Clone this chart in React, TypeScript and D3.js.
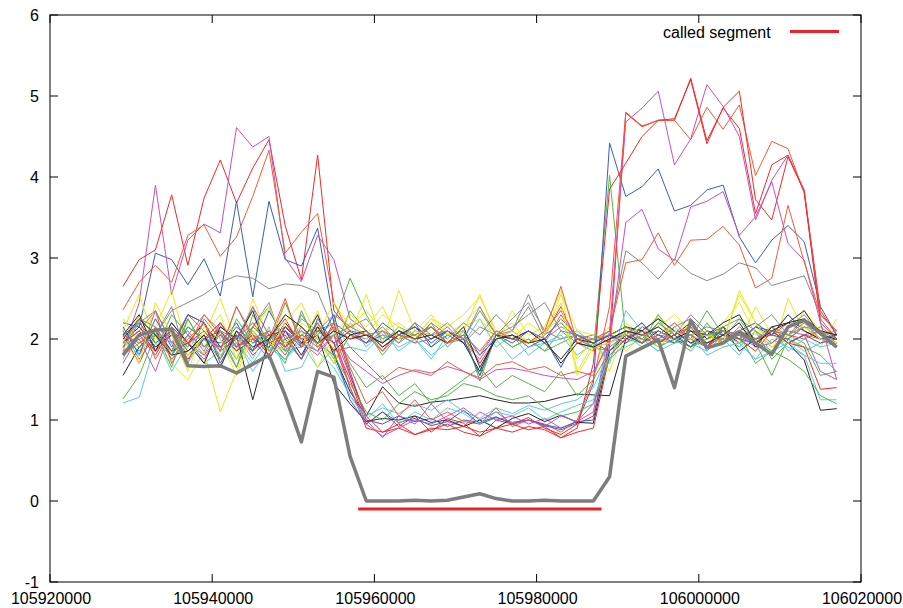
import * as d3 from "d3";

// probe positions (bp)
const positions = [
  105929000, 105931000, 105933000, 105935000, 105937000, 105939000, 105941000, 105943000, 105945000,
  105947000, 105949000, 105951000, 105953000, 105955000, 105957000, 105959000, 105961000, 105963000,
  105965000, 105967000, 105969000, 105971000, 105973000, 105975000, 105977000, 105979000, 105981000,
  105983000, 105985000, 105987000, 105989000, 105991000, 105993000, 105995000, 105997000, 105999000,
  106001000, 106003000, 106005000, 106007000, 106009000, 106011000, 106013000, 106015000, 106017000,
];

const xTicks = [105920000, 105940000, 105960000, 105980000, 106000000, 106020000];
const yTicks = [-1, 0, 1, 2, 3, 4, 5, 6];

// gnuplot-like line colours, cycled per sample
const palette = ["#f02a2a", "#52b846", "#3a5cc2", "#c852b8", "#5ccae0", "#ece81c", "#262626", "#f25a36", "#8a8a8a"];

// copy-number per sample (one row per sample)
const samples: number[][] = [
  [2.65, 2.98, 3.10, 3.78, 2.91, 3.74, 4.21, 3.68, 4.11, 4.46, 3.40, 2.73, 4.27, 2.35, 2.10,
   2.05, 1.85, 2.10, 2.00, 2.15, 1.95, 2.05, 1.70, 2.00, 2.10, 1.95, 2.05, 2.40, 1.95, 1.90,
   2.00, 2.10, 1.95, 2.05, 2.00, 2.15, 2.05, 1.95, 2.10, 2.00, 2.05, 2.20, 2.10, 2.00, 1.95],
  [1.95, 2.10, 1.85, 2.30, 2.05, 1.80, 2.20, 1.95, 2.15, 2.40, 1.90, 2.25, 2.10, 2.20, 2.75,
   2.30, 1.95, 2.15, 2.05, 1.90, 2.10, 2.00, 1.55, 2.05, 1.90, 2.00, 1.85, 2.10, 1.95, 1.85,
   4.02, 2.00, 2.10, 2.25, 1.95, 2.00, 2.35, 2.05, 1.90, 2.10, 1.75, 1.95, 2.05, 2.15, 2.00],
  [2.20, 2.15, 3.06, 2.98, 2.67, 2.99, 2.53, 3.70, 2.52, 3.70, 2.98, 2.90, 3.37, 2.20, 2.05,
   1.95, 2.05, 2.00, 2.20, 1.90, 2.05, 2.10, 1.80, 2.00, 2.05, 1.90, 2.00, 2.25, 2.05, 1.95,
   1.85, 2.05, 1.95, 2.10, 2.00, 1.90, 2.05, 2.15, 2.00, 1.95, 2.10, 2.05, 2.25, 2.05, 2.00],
  [1.85, 2.45, 3.90, 2.55, 3.22, 3.42, 3.31, 4.61, 4.37, 4.50, 3.00, 2.71, 3.28, 2.98, 2.25,
   2.10, 1.90, 2.05, 1.95, 2.00, 2.15, 1.95, 1.75, 2.05, 2.00, 2.10, 1.95, 2.30, 2.00, 1.90,
   2.05, 2.00, 2.15, 1.95, 2.10, 2.00, 1.90, 2.05, 2.10, 2.00, 2.15, 1.95, 2.05, 2.10, 1.95],
  [1.21, 1.28, 1.95, 1.80, 2.05, 1.70, 1.85, 2.00, 1.60, 1.90, 1.75, 1.95, 1.65, 1.90, 2.20,
   1.90, 2.10, 1.85, 2.00, 1.75, 2.05, 1.95, 2.25, 1.90, 2.05, 1.80, 1.95, 2.00, 2.10, 1.95,
   1.75, 2.10, 2.00, 1.85, 2.15, 1.95, 2.05, 2.00, 1.80, 2.10, 1.90, 2.00, 1.85, 1.95, 2.05],
  [2.10, 2.55, 1.95, 1.70, 1.50, 1.85, 1.10, 1.60, 2.10, 1.80, 2.45, 1.90, 2.35, 1.75, 2.05,
   2.55, 1.95, 2.60, 2.10, 2.30, 2.05, 2.20, 2.40, 1.95, 2.35, 2.05, 2.15, 2.60, 1.60, 1.95,
   2.15, 1.85, 2.05, 2.30, 1.95, 2.15, 2.05, 2.00, 2.55, 2.20, 1.80, 2.50, 2.10, 1.90, 2.25],
  [1.95, 2.15, 1.90, 2.05, 1.80, 2.00, 2.10, 1.85, 2.00, 1.90, 2.20, 1.95, 2.30, 1.80, 1.35,
   1.05, 1.41, 1.21, 1.17, 1.22, 1.24, 1.27, 1.30, 1.25, 1.21, 1.21, 1.23, 1.28, 1.32, 1.31,
   1.30, 2.00, 2.10, 1.95, 2.05, 2.20, 2.00, 2.10, 1.95, 2.15, 2.05, 2.30, 2.10, 2.00, 1.95],
  [2.36, 2.70, 2.91, 2.70, 3.28, 3.41, 3.02, 3.26, 3.76, 4.33, 3.06, 3.32, 3.55, 2.45, 2.05,
   1.95, 2.10, 2.00, 2.05, 2.15, 1.95, 2.00, 1.80, 2.10, 2.00, 1.95, 2.10, 2.35, 2.00, 2.05,
   1.95, 2.05, 2.20, 2.00, 1.95, 2.10, 2.05, 1.95, 2.15, 2.00, 2.10, 1.95, 2.05, 2.00, 1.90],
  [1.80, 1.95, 2.05, 2.35, 2.45, 2.55, 2.70, 2.78, 2.75, 2.62, 2.68, 2.66, 2.58, 2.10, 2.00,
   2.05, 1.95, 2.10, 2.00, 2.20, 2.05, 1.95, 2.15, 2.05, 2.25, 2.45, 2.10, 2.00, 2.05, 1.95,
   2.10, 3.09, 2.94, 2.74, 2.99, 2.81, 2.72, 2.80, 2.94, 2.88, 2.66, 2.72, 2.78, 2.30, 2.10],
  [2.05, 1.70, 2.15, 1.85, 2.30, 2.20, 1.75, 2.10, 1.80, 2.00, 2.25, 1.90, 2.15, 1.95, 1.50,
   0.95, 1.10, 0.92, 1.05, 0.85, 1.02, 0.96, 0.80, 1.00, 0.95, 1.03, 0.90, 0.82, 0.95, 1.05,
   1.90, 4.79, 4.62, 4.70, 4.70, 5.22, 4.45, 4.85, 4.60, 3.55, 4.15, 4.27, 3.82, 2.35, 2.05],
  [2.00, 1.85, 2.10, 1.65, 2.25, 1.90, 2.05, 1.75, 2.15, 1.95, 1.70, 2.35, 1.90, 2.10, 1.70,
   1.40, 1.55, 1.30, 1.45, 1.20, 1.35, 1.50, 1.65, 1.40, 1.55, 1.45, 1.35, 1.60, 1.30, 1.50,
   1.85, 2.00, 1.95, 2.30, 2.05, 1.90, 2.20, 1.95, 2.10, 2.00, 1.85, 2.05, 1.95, 1.55, 1.60],
  [1.90, 2.25, 2.05, 1.80, 2.15, 2.00, 1.95, 2.20, 1.85, 2.05, 1.90, 2.10, 1.95, 2.30, 1.60,
   1.00, 0.95, 1.05, 0.98, 1.02, 0.92, 1.00, 0.97, 1.04, 0.95, 1.00, 0.93, 0.88, 0.96, 1.45,
   4.42, 3.76, 3.88, 4.10, 3.58, 3.65, 3.84, 3.90, 3.26, 2.94, 3.22, 3.40, 3.20, 2.40, 2.05],
  [1.70, 2.05, 1.85, 2.20, 1.95, 1.75, 2.10, 1.90, 2.05, 1.85, 2.15, 1.95, 1.80, 2.05, 1.55,
   1.00, 0.78, 1.05, 0.95, 1.20, 0.98, 0.92, 1.10, 1.00, 1.05, 0.95, 1.02, 0.90, 0.98, 1.10,
   2.10, 4.68, 4.85, 5.06, 4.15, 4.47, 5.14, 4.87, 4.50, 3.47, 3.96, 4.27, 3.84, 2.25, 2.00],
  [1.85, 2.00, 2.10, 1.75, 1.95, 2.05, 1.80, 1.95, 1.70, 2.00, 1.85, 1.90, 2.05, 1.75, 1.30,
   1.05, 1.15, 1.08, 1.20, 1.12, 1.25, 1.10, 1.02, 1.15, 1.08, 1.18, 1.12, 1.20, 1.25, 1.40,
   1.85, 2.05, 1.90, 2.00, 2.10, 1.95, 1.85, 2.05, 1.95, 1.75, 2.00, 1.90, 1.80, 1.25, 1.25],
  [2.25, 1.95, 2.15, 2.60, 1.85, 2.05, 2.30, 1.75, 2.50, 2.00, 1.80, 2.20, 2.05, 2.45, 2.15,
   2.35, 2.10, 2.20, 2.05, 2.25, 2.15, 2.30, 2.52, 2.10, 2.00, 2.20, 2.05, 2.55, 2.10, 2.05,
   2.00, 2.20, 2.05, 2.15, 2.30, 2.10, 1.95, 2.20, 2.45, 2.05, 2.15, 2.00, 2.35, 2.10, 2.00],
  [1.55, 1.90, 2.10, 1.85, 1.95, 2.20, 1.90, 2.05, 1.25, 2.00, 2.15, 1.95, 2.05, 1.45, 1.20,
   0.98, 1.02, 1.00, 1.05, 0.97, 1.00, 0.92, 1.00, 0.90, 1.02, 1.08, 0.98, 1.06, 0.97, 0.96,
   1.85, 2.05, 1.95, 2.10, 2.00, 2.05, 1.90, 2.15, 1.85, 2.00, 2.10, 1.95, 1.74, 1.12, 1.14],
  [1.95, 2.10, 2.35, 1.70, 2.05, 1.90, 2.15, 2.00, 1.85, 2.10, 1.95, 2.05, 1.90, 2.15, 1.65,
   1.20, 1.35, 1.05, 1.25, 1.00, 1.10, 0.98, 0.95, 1.15, 0.92, 1.00, 0.95, 0.85, 1.00, 1.50,
   2.40, 4.80, 4.63, 4.70, 4.70, 4.46, 4.86, 4.59, 4.89, 4.02, 4.44, 4.35, 3.80, 2.30, 2.10],
  [2.10, 1.75, 2.05, 2.40, 1.70, 2.25, 2.00, 1.65, 2.15, 2.45, 1.85, 2.30, 2.00, 1.70, 2.05,
   2.00, 2.15, 1.95, 2.10, 2.05, 2.20, 2.00, 2.35, 2.05, 2.10, 2.40, 2.00, 2.15, 2.05, 1.95,
   2.05, 2.15, 2.00, 2.20, 2.05, 2.30, 2.10, 2.00, 2.25, 2.10, 1.95, 2.15, 2.30, 2.05, 2.10],
  [1.90, 2.05, 1.80, 2.15, 1.95, 2.10, 1.85, 2.00, 2.20, 1.95, 2.05, 1.75, 2.10, 1.95, 1.40,
   0.90, 0.85, 0.95, 0.82, 0.90, 0.88, 0.92, 0.85, 0.90, 0.95, 0.88, 0.92, 0.78, 0.90, 1.70,
   3.85, 4.17, 4.50, 4.70, 4.72, 5.20, 4.41, 4.86, 5.06, 3.72, 3.47, 4.25, 3.82, 2.20, 2.00],
  [1.26, 1.55, 2.05, 1.80, 2.25, 1.90, 2.10, 1.65, 2.30, 1.95, 1.75, 2.05, 2.15, 1.85, 2.35,
   2.10, 1.80, 2.05, 1.95, 2.20, 1.90, 2.10, 1.48, 2.05, 1.90, 2.00, 1.85, 1.95, 2.05, 1.90,
   1.85, 2.10, 1.95, 2.20, 2.05, 1.90, 2.00, 2.15, 2.25, 1.95, 1.55, 2.00, 1.90, 1.80, 1.60],
  [2.05, 2.20, 1.95, 2.10, 1.85, 2.00, 1.90, 2.15, 1.95, 2.05, 2.10, 1.90, 2.20, 1.85, 1.25,
   0.95, 1.10, 0.97, 1.02, 0.93, 0.98, 1.12, 0.95, 1.03, 0.97, 1.00, 0.94, 0.90, 0.98, 1.00,
   2.00, 2.05, 2.20, 1.95, 2.05, 1.90, 2.10, 2.05, 2.00, 2.15, 2.10, 1.95, 2.05, 1.95, 2.00],
  [2.00, 1.80, 2.35, 1.95, 2.10, 1.85, 2.20, 1.90, 2.40, 2.05, 1.80, 2.15, 1.95, 2.05, 1.75,
   1.60, 1.45, 1.55, 1.62, 1.58, 1.66, 1.60, 1.50, 1.62, 1.64, 1.60, 1.55, 1.52, 1.50, 1.60,
   1.95, 3.44, 3.60, 3.11, 2.97, 3.63, 3.70, 3.82, 3.28, 3.51, 3.94, 3.18, 2.97, 2.20, 1.50],
  [1.75, 2.25, 2.05, 1.60, 1.95, 1.70, 1.65, 2.05, 1.75, 2.15, 1.60, 1.65, 2.05, 2.20, 1.90,
   1.85, 2.05, 1.90, 2.00, 1.80, 1.95, 2.05, 1.85, 2.00, 1.75, 1.90, 1.95, 2.05, 1.80, 1.95,
   1.70, 2.35, 2.10, 2.00, 1.95, 2.20, 1.85, 2.05, 1.95, 2.00, 2.15, 1.85, 2.00, 1.90, 1.95],
  [1.85, 2.30, 2.00, 2.15, 1.80, 2.05, 2.50, 1.95, 2.10, 1.85, 2.20, 2.45, 2.00, 1.70, 2.20,
   2.05, 2.30, 2.15, 2.00, 2.25, 2.05, 2.10, 2.55, 2.05, 2.20, 1.95, 2.10, 2.25, 1.75, 2.00,
   1.60, 2.15, 2.05, 1.95, 2.20, 2.05, 2.10, 1.90, 1.95, 2.40, 2.05, 1.95, 2.20, 2.05, 1.95],
  [2.05, 2.30, 1.85, 2.20, 1.95, 1.70, 2.15, 2.00, 2.35, 1.75, 2.10, 1.80, 2.15, 1.85, 2.05,
   2.10, 1.90, 2.05, 2.15, 2.00, 2.10, 1.95, 1.60, 2.05, 2.00, 2.10, 1.95, 1.75, 2.00, 1.95,
   2.05, 2.15, 2.10, 2.25, 2.10, 1.95, 2.05, 2.20, 2.30, 1.95, 2.10, 2.20, 2.35, 2.05, 2.00],
  [1.95, 2.25, 1.75, 2.10, 1.90, 2.30, 2.05, 1.85, 2.15, 2.00, 2.50, 1.90, 2.20, 1.85, 1.90,
   1.70, 1.50, 1.65, 1.60, 1.55, 1.72, 1.60, 1.52, 1.68, 1.72, 1.62, 1.66, 1.55, 1.60, 1.55,
   2.00, 2.10, 1.95, 2.05, 2.20, 2.00, 1.90, 2.10, 2.05, 1.95, 2.15, 2.05, 2.00, 2.10, 2.05],
  [1.90, 2.20, 2.35, 1.95, 2.30, 2.10, 1.85, 2.40, 2.05, 1.95, 2.45, 2.00, 2.10, 2.30, 2.15,
   2.25, 2.00, 2.10, 2.05, 2.15, 2.00, 2.20, 2.05, 2.30, 2.10, 2.55, 2.05, 2.20, 2.00, 1.90,
   1.95, 2.10, 2.05, 2.00, 2.15, 2.25, 2.05, 2.10, 2.00, 2.15, 2.30, 2.05, 2.20, 2.00, 2.05],
  [1.95, 2.10, 1.85, 2.05, 1.75, 2.00, 2.20, 1.90, 2.05, 1.80, 2.15, 2.00, 1.85, 2.20, 1.55,
   1.05, 0.85, 0.90, 0.82, 0.88, 0.95, 0.85, 0.80, 0.90, 0.85, 0.92, 0.88, 0.78, 0.85, 0.90,
   1.80, 2.00, 2.10, 1.95, 2.05, 2.15, 1.90, 2.05, 2.00, 1.85, 2.10, 1.95, 1.90, 1.38, 1.40],
  [2.10, 1.90, 2.05, 1.85, 2.15, 2.00, 1.75, 2.25, 1.95, 2.10, 1.85, 2.05, 1.95, 1.80, 1.45,
   1.10, 1.00, 1.20, 1.35, 1.25, 1.30, 1.45, 1.40, 1.30, 1.25, 1.30, 1.15, 1.05, 1.10, 1.20,
   1.75, 1.95, 2.05, 1.90, 2.00, 1.85, 2.10, 1.95, 2.05, 1.70, 1.85, 1.75, 1.60, 1.30, 1.20],
  [2.15, 1.80, 2.25, 1.90, 2.30, 2.20, 1.70, 2.05, 1.85, 2.35, 2.00, 1.75, 2.25, 1.95, 2.10,
   1.95, 2.20, 2.05, 2.15, 1.95, 2.10, 2.00, 1.55, 2.05, 1.95, 2.10, 2.00, 1.65, 2.05, 1.95,
   2.05, 1.95, 2.15, 2.05, 1.95, 2.10, 2.05, 1.95, 2.10, 2.20, 2.05, 2.00, 2.15, 2.00, 2.05],
  [1.85, 2.00, 1.60, 2.15, 1.95, 1.80, 2.05, 1.90, 2.00, 1.75, 2.10, 1.95, 1.85, 2.05, 1.40,
   0.95, 0.80, 0.90, 1.00, 0.95, 1.05, 1.15, 1.00, 1.10, 0.95, 1.00, 0.92, 1.05, 0.98, 1.20,
   1.90, 2.05, 2.00, 1.95, 2.10, 2.05, 1.95, 2.00, 2.05, 1.90, 1.95, 2.10, 2.05, 1.60, 1.50],
  [2.00, 1.80, 2.10, 1.95, 1.70, 2.05, 1.85, 1.95, 2.10, 1.90, 1.75, 2.00, 1.85, 1.65, 1.30,
   1.00, 1.20, 0.95, 1.10, 1.00, 1.15, 1.08, 0.95, 1.10, 1.05, 1.15, 1.00, 1.10, 1.18, 1.25,
   1.80, 1.90, 2.00, 1.85, 1.95, 2.05, 1.80, 1.90, 1.95, 1.75, 1.85, 1.95, 1.80, 1.70, 1.70],
  [2.00, 1.70, 2.45, 2.05, 1.60, 2.15, 2.00, 1.55, 2.05, 2.40, 1.95, 2.10, 1.65, 2.05, 2.30,
   2.15, 2.40, 2.00, 2.10, 2.05, 1.95, 2.15, 2.25, 2.00, 2.10, 1.95, 2.05, 2.45, 1.55, 1.90,
   1.95, 2.05, 2.15, 1.90, 2.10, 2.00, 2.05, 1.95, 2.60, 2.20, 1.90, 2.05, 2.15, 2.00, 1.95],
  [2.00, 2.25, 2.05, 1.80, 1.85, 2.05, 1.65, 2.10, 1.90, 2.00, 2.30, 2.15, 1.95, 2.10, 2.00,
   2.05, 1.95, 2.10, 2.00, 2.05, 1.95, 2.15, 1.65, 2.00, 2.05, 1.95, 2.00, 1.70, 1.95, 1.90,
   2.00, 2.10, 2.05, 2.15, 2.00, 2.10, 1.95, 2.05, 2.20, 1.90, 2.15, 2.20, 2.25, 2.10, 2.05],
  [2.05, 1.95, 2.10, 1.75, 2.00, 2.20, 1.85, 2.40, 2.00, 2.10, 1.90, 2.05, 1.95, 2.15, 2.00,
   2.10, 1.85, 2.05, 2.00, 2.15, 1.95, 2.05, 1.85, 2.10, 2.00, 1.95, 2.10, 2.65, 1.95, 2.00,
   2.10, 2.94, 2.98, 3.31, 2.91, 3.22, 3.23, 3.39, 3.16, 2.63, 2.75, 3.65, 2.95, 2.30, 2.10],
  [1.95, 2.25, 2.15, 1.80, 2.05, 2.30, 2.10, 2.00, 2.40, 1.85, 2.00, 2.10, 1.95, 2.05, 2.15,
   2.05, 2.10, 1.95, 2.20, 2.05, 2.10, 2.00, 2.40, 2.05, 2.15, 2.30, 2.45, 2.10, 2.05, 2.00,
   2.05, 2.15, 2.05, 2.10, 2.00, 2.05, 2.15, 2.10, 2.05, 2.00, 2.10, 2.05, 2.15, 2.10, 2.00],
];

// the highlighted sample (thick grey)
const focusSample = [
  1.80, 2.05, 2.11, 2.12, 1.67, 1.66, 1.67, 1.58, 1.69, 1.80, 1.30, 0.73, 1.60, 1.53, 0.55,
  0.00, 0.00, 0.00, 0.01, 0.00, 0.01, 0.05, 0.09, 0.03, 0.00, 0.00, 0.01, 0.00, 0.00, 0.00,
  0.30, 1.79, 1.89, 1.99, 1.40, 2.23, 1.89, 1.95, 2.09, 1.95, 1.81, 2.15, 2.23, 2.07, 1.90,
];

// called segment
const segStart = 105958000;
const segEnd = 105988000;
const segLevel = -0.1;

export default function App() {
  const W = 903;
  const H = 608;
  const left = 50, right = 861, top = 15, bottom = 582;

  const x = d3.scaleLinear().domain([105920000, 106020000]).range([left, right]);
  const y = d3.scaleLinear().domain([-1, 6]).range([bottom, top]);

  const line = d3
    .line<number>()
    .x((_, i) => x(positions[i]))
    .y((d) => y(d));

  const font = "'Liberation Sans', Arial, Helvetica, sans-serif";
  const tick = 8;

  return (
    <svg
      width={W}
      height={H}
      style={{ position: "absolute", left: 0, top: 0, background: "#fff" }}
      fontFamily={font}
    >
      <rect x={0} y={0} width={W} height={H} fill="#fff" />

      {/* data */}
      <g fill="none" strokeWidth={1}>
        {samples.map((s, i) => (
          <path key={i} d={line(s) ?? ""} stroke={palette[i % palette.length]} />
        ))}
      </g>
      <path d={line(focusSample) ?? ""} fill="none" stroke="#7d7d7d" strokeWidth={3.5} strokeLinejoin="round" />
      <line x1={x(segStart)} x2={x(segEnd)} y1={y(segLevel)} y2={y(segLevel)} stroke="#ee2222" strokeWidth={3} />

      {/* frame and ticks */}
      <rect x={left} y={top} width={right - left} height={bottom - top} fill="none" stroke="#000" strokeWidth={1} />
      <g stroke="#000" strokeWidth={1}>
        {yTicks.map((t) => (
          <g key={"y" + t}>
            <line x1={left} x2={left + tick} y1={y(t)} y2={y(t)} />
            <line x1={right - tick} x2={right} y1={y(t)} y2={y(t)} />
          </g>
        ))}
        {xTicks.map((t) => (
          <g key={"x" + t}>
            <line x1={x(t)} x2={x(t)} y1={bottom} y2={bottom - tick} />
            <line x1={x(t)} x2={x(t)} y1={top} y2={top + tick} />
          </g>
        ))}
      </g>

      <g fontSize={16} fill="#000">
        {yTicks.map((t) => (
          <text key={"yl" + t} x={39} y={y(t)} dy="0.35em" textAnchor="end">
            {t}
          </text>
        ))}
        {xTicks.map((t) => (
          <text key={"xl" + t} x={x(t) + 1} y={bottom + 16} dy="0.35em" textAnchor="middle">
            {t}
          </text>
        ))}
        <text x={663} y={32} dy="0.35em">
          called segment
        </text>
      </g>
      <line x1={790} x2={839} y1={31.5} y2={31.5} stroke="#ee2222" strokeWidth={3} />
    </svg>
  );
}
